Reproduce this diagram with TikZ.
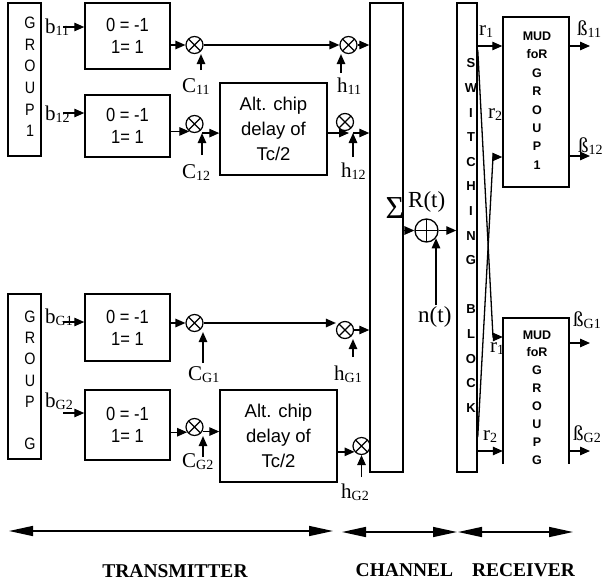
\documentclass[tikz,border=0pt]{standalone}
\usepackage{fontspec}
\setmainfont{Liberation Serif}
\newfontfamily\arialf{Liberation Sans}
\newfontfamily\narrowf[FakeStretch=0.87]{Liberation Sans}
\usetikzlibrary{arrows.meta,calc}
\newcommand\fs[1]{\fontsize{#1}{#1}\selectfont}
\newcommand\lab[2]{{\fs{21}#1}\raisebox{-2.5pt}{\fs{14}#2}}
\begin{document}
\begin{tikzpicture}[x=1pt,y=-1pt,
  boxx/.style={draw, line width=1.5pt, inner sep=0pt},
  arr/.style={line width=1.3pt, -{Triangle[length=10pt,width=8.5pt]}},
  big/.style={line width=1.5pt, {Triangle[length=24pt,width=10pt]}-{Triangle[length=24pt,width=10pt]}},
  mult/.style={circle, draw, line width=1.2pt, minimum size=17pt, inner sep=0pt,
    path picture={\draw[line width=1.2pt] (path picture bounding box.north west) -- (path picture bounding box.south east)
      (path picture bounding box.north east) -- (path picture bounding box.south west);}},
  addr/.style={circle, draw, line width=1.3pt, minimum size=23pt, inner sep=0pt,
    path picture={\draw[line width=1.3pt] (path picture bounding box.north) -- (path picture bounding box.south)
      (path picture bounding box.west) -- (path picture bounding box.east);}},
  coder/.style={boxx, minimum width=85pt, align=center, font=\narrowf\fontsize{19}{22}\selectfont},
  delaybox/.style={boxx, minimum height=92pt, align=center, font=\arialf\fontsize{18.5}{25}\selectfont},
  lbl/.style={anchor=base west, inner sep=0pt},
  vtext/.style={align=center, inner sep=0pt},
  foot/.style={font=\bfseries\fontsize{19.5}{19.5}\selectfont, inner sep=0pt}
]
\useasboundingbox (0,0) rectangle (605,587);

% group boxes
\node[boxx, minimum width=33pt, minimum height=153pt] (g1) at (24.5,79.5) {};
\node[vtext, font=\narrowf\fontsize{16.5}{21.6}\selectfont] (g1t) at (30,77) {G\\R\\O\\U\\P\\1};
\node[boxx, minimum width=33pt, minimum height=165pt] (gG) at (24.5,376.5) {};
\node[vtext, font=\narrowf\fontsize{16.5}{21.2}\selectfont] (gGt) at (30,380.5) {G\\R\\O\\U\\P\\\mbox{}\\G};

% coders
\node[coder, minimum height=66pt] (c1) at (127.5,36) {0 = -1\\1= 1};
\node[coder, minimum height=62pt] (c2) at (127.5,126) {0 = -1\\1= 1};
\node[coder, minimum height=67pt] (c3) at (127.5,327.5) {0 = -1\\1= 1};
\node[coder, minimum height=70pt] (c4) at (127.5,425) {0 = -1\\1= 1};

% delay boxes
\node[delaybox, minimum width=107pt] (d1) at (273.5,129) {Alt. chip\\delay of\\Tc/2};
\node[delaybox, minimum width=117pt] (d2) at (278.5,436) {Alt. chip\\delay of\\Tc/2};

% channel and switching block
\node[boxx, minimum width=33pt, minimum height=469pt] (chan) at (386.5,237.5) {};
\node[boxx, minimum width=20pt, minimum height=469pt] (sw) at (467,237.5) {};
\node[vtext, font=\arialf\bfseries\fontsize{13}{24.6}\selectfont] (swt) at (471,235.5)
  {S\\W\\I\\T\\C\\H\\I\\N\\G\\\mbox{}\\B\\L\\O\\C\\K};

% MUD boxes
\node[boxx, minimum width=66pt, minimum height=170pt] (mud1) at (536,102) {};
\node[vtext, font=\arialf\bfseries\fontsize{12.5}{18.4}\selectfont] (mud1t) at (537,100.5)
  {MUD\\foR\\G\\R\\O\\U\\P\\1};
\node[inner sep=0pt, minimum width=66pt, minimum height=146pt] (mudG) at (536,391) {};
\draw[line width=1.5pt] (mudG.south west) -- (mudG.north west) -- (mudG.north east) -- (mudG.south east);
\begin{scope}
\clip (500,300) rectangle (575,464);
\node[vtext, font=\arialf\bfseries\fontsize{12.5}{17.9}\selectfont] (mudGt) at (537,397.5)
  {MUD\\foR\\G\\R\\O\\U\\P\\G};
\end{scope}

% multipliers and adder
\node[mult] (m11) at (194.5,45) {};
\node[mult] (m12) at (194.5,124) {};
\node[mult] (mG1) at (194.5,323) {};
\node[mult] (mG2) at (194.5,427) {};
\node[mult] (h11) at (348.5,45) {};
\node[mult] (h12) at (345,122) {};
\node[mult] (hG1) at (345,330) {};
\node[mult] (hG2) at (361.5,446) {};
\node[addr] (sum) at (426.5,230.5) {};

% labels
\node[lbl] (lb11) at (45,33) {\lab{b}{11}};
\node[lbl] (lb12) at (45,120) {\lab{b}{12}};
\node[lbl] (lbG1) at (45,323) {\lab{b}{G1}};
\node[lbl] (lbG2) at (45,407) {\lab{b}{G2}};
\node[lbl] (lc11) at (182,92) {\lab{C}{11}};
\node[lbl] (lc12) at (182,178) {\lab{C}{12}};
\node[lbl] (lcG1) at (188,380) {\lab{C}{G1}};
\node[lbl] (lcG2) at (182,467) {\lab{C}{G2}};
\node[lbl] (lh11) at (337,92) {\lab{h}{11}};
\node[lbl] (lh12) at (341,177) {\lab{h}{12}};
\node[lbl] (lhG1) at (334,380) {\lab{h}{G1}};
\node[lbl] (lhG2) at (341,498) {\lab{h}{G2}};
\node[lbl] (lR) at (408,207) {\fs{23}R(t)};
\node[lbl] (ln) at (418,322) {\fs{23}n(t)};
\node (sig) at (395,208) {\fs{32}Σ};
\node[lbl] (lr1a) at (479,35) {\lab{r}{1}};
\node[lbl] (lr2a) at (488,118) {\lab{r}{2}};
\node[lbl] (lr1b) at (490,352) {\lab{r}{1}};
\node[lbl] (lr2b) at (483,440) {\lab{r}{2}};
\node[lbl] (lo11) at (577,35) {\lab{ß}{11}};
\node[lbl] (lo12) at (578,152) {\lab{ß}{12}};
\node[lbl] (loG1) at (573,326) {\lab{ß}{G1}};
\node[lbl] (loG2) at (573,440) {\lab{ß}{G2}};

% coordinates for free ends
\coordinate (b11s) at (63,27);
\coordinate (b12s) at (63,113);
\coordinate (bG1s) at (63,322);
\coordinate (bG2s) at (63,413);
\coordinate (c11s) at (201,70);
\coordinate (c12s) at (202,155);
\coordinate (cG1s) at (203,363);
\coordinate (cG2s) at (203,457);
\coordinate (h11s) at (341,73);
\coordinate (h12s) at (353,157);
\coordinate (hG1s) at (353,357);
\coordinate (hG2s) at (361.5,477);
\coordinate (ns) at (436,305);

% inputs
\draw[arr] (b11s) -- (b11s -| c1.west);
\draw[arr] (b12s) -- (b12s -| c2.west);
\draw[arr] (bG1s) -- (bG1s -| c3.west);
\draw[arr] (bG2s) -- (bG2s -| c4.west);

% coder to multipliers
\draw[arr] (c1.east |- m11) -- (m11);
\draw[arr] (c2.east |- m12.235) -- (m12.235);
\draw[arr] (c3.east |- mG1) -- (mG1);
\draw[arr] (c4.east |- mG2.215) -- (mG2.215);

% chip codes
\draw[arr] (c11s) -- (c11s |- m11.south);
\draw[arr] (c12s) -- (c12s |- m12.south);
\draw[arr] (cG1s) -- (cG1s |- mG1.south);
\draw[arr] (cG2s) -- (cG2s |- mG2.south);

% row 1
\draw[arr] (m11) -- (h11);
\draw[arr] (h11) -- (h11 -| chan.west);
\draw[arr] (h11s) -- (h11s |- h11.south);

% row 2
\coordinate (j12a) at (c12s |- m12.south);
\draw[arr] (j12a) -- (j12a -| d1.west);
\coordinate (j12b) at (349,133);
\coordinate (j12c) at (353,133);
\draw[arr] (d1.east |- j12b) -- (j12b);
\draw[arr] (j12c) -- (j12c -| chan.west);
\draw[arr] (h12s) -- (h12s |- j12b);

% row 3
\draw[arr] (mG1) -- (mG1 -| hG1.west);
\draw[arr] (hG1) -- (hG1 -| chan.west);
\draw[arr] (hG1s) -- (hG1s |- hG1.south);

% row 4
\coordinate (jG2a) at (cG2s |- mG2.-30);
\draw[arr] (jG2a) -- (jG2a -| d2.west);
\draw[arr] (d2.east |- hG2.220) -- (hG2.220);
\draw[arr] (hG2s) -- (hG2.south);

% channel
\draw[arr] (chan.east |- sum) -- (sum);
\draw[arr] (sum) -- (sum -| sw.west);
\draw[arr] (ns) -- (ns |- sum.-40);

% switching to MUD
\draw[arr] (sw.east |- 0,46) -- (mud1.west |- 0,46);
\coordinate (xa1) at (sw.east |- 0,50);
\coordinate (xa2) at (493,337);
\draw[arr] (xa1) -- (xa2) -- (xa2 -| mudG.west);
\coordinate (xb1) at (sw.east |- 0,437);
\coordinate (xb2) at (493,157);
\draw[arr] (xb1) -- (xb2) -- (xb2 -| mud1.west);
\draw[arr] (sw.east |- 0,451) -- (mudG.west |- 0,451);

% outputs
\coordinate (o1) at (590,46);
\coordinate (o2) at (590,156);
\coordinate (o3) at (590,343);
\coordinate (o4) at (590,451);
\draw[arr] (mud1.east |- o1) -- (o1);
\draw[arr] (mud1.east |- o2) -- (o2);
\draw[arr] (mudG.east |- o3) -- (o3);
\draw[arr] (mudG.east |- o4) -- (o4);

% bottom spans
\coordinate (tx1) at (9,531);
\coordinate (tx2) at (333,531);
\coordinate (ch1) at (342,532);
\coordinate (ch2) at (457,532);
\coordinate (rx1) at (458,532);
\coordinate (rx2) at (573,532);
\draw[big] (tx1) -- (tx2);
\draw[big] (ch1) -- (ch2);
\draw[big] (rx1) -- (rx2);
\node[foot] (ltx) at (175,571) {TRANSMITTER};
\node[foot] (lch) at (404.5,570) {CHANNEL};
\node[foot] (lrx) at (523.5,570) {RECEIVER};
\end{tikzpicture}
\end{document}
